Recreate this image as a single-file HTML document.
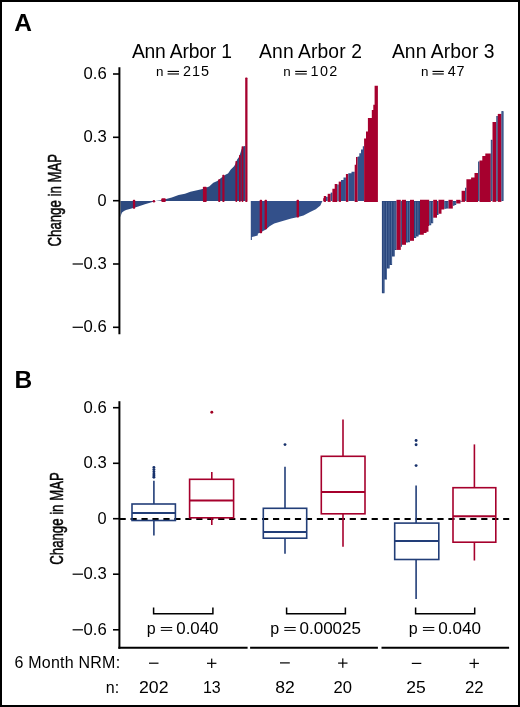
<!DOCTYPE html>
<html><head><meta charset="utf-8"><style>
html,body{margin:0;padding:0;background:#fff;}
svg{display:block;font-family:'Liberation Sans', sans-serif;will-change:transform;}
</style></head><body>
<svg width="520" height="707" viewBox="0 0 520 707">
<rect x="1" y="1" width="518" height="705" fill="#fff" stroke="#000" stroke-width="2"/>
<g id="wf">
<polygon points="120.50,201.00 120.50,217.50 121.20,214.50 122.00,212.40 124.00,211.00 126.00,210.10 131.50,208.40 138.20,206.60 144.90,204.30 151.60,202.30 155.70,201.00" fill="#2d4a80"/>
<polygon points="155.70,201.00 162.40,199.90 171.80,197.60 178.60,194.90 185.00,193.80 190.40,191.80 197.10,190.20 202.50,189.10 209.20,186.40 213.30,182.80 217.30,181.00 221.00,178.00 225.40,174.70 228.00,173.60 230.80,169.60 234.10,166.20 235.40,164.00 237.20,159.50 239.00,157.00 240.70,152.00 241.60,149.00 243.40,146.20 245.40,145.90 245.40,201.00" fill="#2d4a80"/>
<rect x="132.90" y="199.80" width="2.30" height="9.00" rx="0.7" fill="#a6002e"/>
<rect x="202.90" y="186.80" width="3.80" height="15.10" rx="0.7" fill="#a6002e"/>
<rect x="218.20" y="179.20" width="2.10" height="22.70" rx="0.7" fill="#a6002e"/>
<rect x="222.30" y="174.80" width="2.20" height="27.10" rx="0.7" fill="#a6002e"/>
<rect x="235.40" y="161.00" width="1.80" height="40.90" rx="0.7" fill="#a6002e"/>
<rect x="239.00" y="155.00" width="1.70" height="46.90" rx="0.7" fill="#a6002e"/>
<rect x="241.60" y="146.30" width="1.80" height="55.60" rx="0.7" fill="#a6002e"/>
<rect x="245.20" y="77.60" width="2.30" height="124.30" rx="0.7" fill="#a6002e"/>
<circle cx="153.9" cy="201.3" r="1.3" fill="#a6002e"/>
<rect x="161.3" y="198.3" width="4.5" height="3.7" rx="1" fill="#a6002e"/>
<polygon points="250.80,201.00 250.80,240.00 251.90,240.00 251.90,236.90 257.70,235.60 257.90,233.50 259.60,233.00 263.50,230.80 266.00,229.50 269.60,226.20 274.20,223.50 283.50,220.80 291.20,218.50 297.00,217.20 303.50,215.40 309.60,212.30 315.80,209.20 320.40,205.40 321.90,202.00 322.50,201.00" fill="#33508a"/>
<rect x="259.70" y="199.80" width="2.40" height="33.50" rx="0.7" fill="#a6002e"/>
<rect x="264.60" y="199.80" width="2.40" height="29.50" rx="0.7" fill="#a6002e"/>
<rect x="296.60" y="199.80" width="2.40" height="17.60" rx="0.7" fill="#a6002e"/>
<rect x="323.2" y="198.2" width="2" height="3" fill="#a6002e"/>
<polygon points="323.80,201.90 323.80,196.00 326.00,196.00 326.00,201.90" fill="#a6002e"/>
<polygon points="326.00,201.00 326.00,196.80 327.70,196.80 327.70,201.00" fill="#33508a"/>
<polygon points="327.70,201.90 327.70,193.80 330.70,193.80 330.70,201.90" fill="#a6002e"/>
<polygon points="330.70,201.00 330.70,192.60 332.40,192.60 332.40,201.00" fill="#33508a"/>
<polygon points="332.40,201.90 332.40,188.80 334.70,188.80 334.70,184.10 337.30,184.10 337.30,201.90" fill="#a6002e"/>
<polygon points="337.30,201.00 337.30,184.50 338.70,184.50 338.70,201.00" fill="#33508a"/>
<polygon points="338.70,201.90 338.70,181.60 341.00,181.60 341.00,201.90" fill="#a6002e"/>
<polygon points="341.00,201.00 341.00,180.00 343.50,180.00 343.50,177.50 345.90,177.50 345.90,201.00" fill="#33508a"/>
<polygon points="345.90,201.90 345.90,174.00 348.30,174.00 348.30,201.90" fill="#a6002e"/>
<polygon points="348.30,201.00 348.30,173.30 351.50,173.30 351.50,171.80 354.70,171.80 354.70,201.00" fill="#33508a"/>
<polygon points="354.70,201.90 354.70,164.70 356.00,164.70 356.00,157.10 357.70,157.10 357.70,201.90" fill="#a6002e"/>
<polygon points="357.70,201.00 357.70,156.40 359.30,156.40 359.30,153.20 361.00,153.20 361.00,149.40 362.80,149.40 362.80,146.20 364.10,146.20 364.10,201.00" fill="#33508a"/>
<polygon points="364.10,201.90 364.10,138.60 366.00,138.60 366.00,131.60 367.90,131.60 367.90,118.00 371.80,118.00 371.80,109.90 373.30,109.90 373.30,104.80 374.60,104.80 374.60,85.70 377.90,85.70 377.90,201.90" fill="#a6002e"/>
<polygon points="381.90,201.00 381.90,293.20 384.50,293.20 384.50,279.60 387.00,279.60 387.00,268.50 389.60,268.50 389.60,265.00 392.10,265.00 392.10,256.50 394.70,256.50 394.70,249.90 396.50,249.90 396.50,201.00" fill="#29467d"/>
<polygon points="396.50,199.80 396.50,249.90 400.80,249.90 400.80,199.80" fill="#a6002e"/>
<polygon points="400.80,201.00 400.80,246.70 401.90,246.70 401.90,201.00" fill="#29467d"/>
<polygon points="401.90,199.80 401.90,244.80 406.00,244.80 406.00,199.80" fill="#a6002e"/>
<polygon points="406.00,201.00 406.00,242.50 408.00,242.50 408.00,242.30 410.00,242.30 410.00,201.00" fill="#29467d"/>
<polygon points="410.00,199.80 410.00,240.80 414.00,240.80 414.00,199.80" fill="#a6002e"/>
<polygon points="414.00,201.00 414.00,237.90 416.20,237.90 416.20,236.40 418.50,236.40 418.50,234.80 420.00,234.80 420.00,201.00" fill="#29467d"/>
<polygon points="420.00,199.80 420.00,234.80 423.80,234.80 423.80,232.90 426.50,232.90 426.50,231.80 428.50,231.80 428.50,226.00 429.20,226.00 429.20,199.80" fill="#a6002e"/>
<polygon points="429.20,201.00 429.20,225.20 431.20,225.20 431.20,223.30 433.20,223.30 433.20,201.00" fill="#29467d"/>
<polygon points="433.20,199.80 433.20,217.70 437.00,217.70 437.00,199.80" fill="#a6002e"/>
<polygon points="437.00,201.00 437.00,215.00 438.50,215.00 438.50,201.00" fill="#29467d"/>
<polygon points="438.50,199.80 438.50,213.80 441.50,213.80 441.50,209.60 444.30,209.60 444.30,199.80" fill="#a6002e"/>
<polygon points="444.30,201.00 444.30,208.80 446.40,208.80 446.40,208.60 448.50,208.60 448.50,201.00" fill="#29467d"/>
<polygon points="448.50,199.80 448.50,208.60 452.80,208.60 452.80,199.80" fill="#a6002e"/>
<polygon points="452.80,201.00 452.80,205.80 454.50,205.80 454.50,204.90 456.20,204.90 456.20,201.00" fill="#29467d"/>
<polygon points="456.20,199.80 456.20,203.50 460.50,203.50 460.50,199.80" fill="#a6002e"/>
<polygon points="460.50,201.00 460.50,202.00 461.60,202.00 461.60,201.00" fill="#29467d"/>
<polygon points="461.60,201.90 461.60,190.80 465.10,190.80 465.10,201.90" fill="#a6002e"/>
<polygon points="465.10,201.00 465.10,187.70 466.40,187.70 466.40,201.00" fill="#29467d"/>
<polygon points="466.40,201.90 466.40,179.30 471.10,179.30 471.10,177.40 474.50,177.40 474.50,173.10 478.10,173.10 478.10,201.90" fill="#a6002e"/>
<polygon points="478.10,201.00 478.10,161.50 479.50,161.50 479.50,201.00" fill="#29467d"/>
<polygon points="479.50,201.90 479.50,160.60 482.30,160.60 482.30,155.90 485.30,155.90 485.30,153.60 490.80,153.60 490.80,201.90" fill="#a6002e"/>
<polygon points="490.80,201.00 490.80,139.80 492.50,139.80 492.50,201.00" fill="#29467d"/>
<polygon points="492.50,201.90 492.50,122.00 496.30,122.00 496.30,201.90" fill="#a6002e"/>
<polygon points="496.30,201.00 496.30,115.90 497.80,115.90 497.80,201.00" fill="#29467d"/>
<polygon points="497.80,201.90 497.80,113.90 501.40,113.90 501.40,201.90" fill="#a6002e"/>
<polygon points="501.40,201.00 501.40,111.10 503.50,111.10 503.50,201.00" fill="#29467d"/>
<rect x="383.55" y="201.80" width="0.75" height="90.60" fill="#5a74a2"/>
<rect x="386.05" y="201.80" width="0.75" height="77.00" fill="#5a74a2"/>
<rect x="388.65" y="201.80" width="0.75" height="65.90" fill="#5a74a2"/>
<rect x="391.15" y="201.80" width="0.75" height="62.40" fill="#5a74a2"/>
<rect x="393.75" y="201.80" width="0.75" height="53.90" fill="#5a74a2"/>
<rect x="395.55" y="201.80" width="0.75" height="47.30" fill="#5a74a2"/>
<rect x="407.05" y="201.80" width="0.75" height="39.90" fill="#5a74a2"/>
<rect x="409.05" y="201.80" width="0.75" height="39.70" fill="#5a74a2"/>
<rect x="415.25" y="201.80" width="0.75" height="35.30" fill="#5a74a2"/>
<rect x="417.55" y="201.80" width="0.75" height="33.80" fill="#5a74a2"/>
<rect x="430.25" y="201.80" width="0.75" height="22.60" fill="#5a74a2"/>
<rect x="432.25" y="201.80" width="0.75" height="20.70" fill="#5a74a2"/>
<rect x="445.45" y="201.80" width="0.75" height="6.20" fill="#5a74a2"/>
<rect x="447.55" y="201.80" width="0.75" height="6.00" fill="#5a74a2"/>
<rect x="453.55" y="201.80" width="0.75" height="3.20" fill="#5a74a2"/>
<rect x="455.25" y="201.80" width="0.75" height="2.30" fill="#5a74a2"/>
<rect x="491.55" y="140.60" width="0.75" height="59.60" fill="#5a74a2"/>
<rect x="502.55" y="111.90" width="0.75" height="88.30" fill="#5a74a2"/>
</g>
<g id="axes">
<line x1="119.4" y1="67.2" x2="119.4" y2="334.3" stroke="#000" stroke-width="2.0" />
<line x1="113.0" y1="74.0" x2="119.4" y2="74.0" stroke="#000" stroke-width="1.6" />
<line x1="113.0" y1="137.3" x2="119.4" y2="137.3" stroke="#000" stroke-width="1.6" />
<line x1="113.0" y1="200.7" x2="119.4" y2="200.7" stroke="#000" stroke-width="1.6" />
<line x1="113.0" y1="264.0" x2="119.4" y2="264.0" stroke="#000" stroke-width="1.6" />
<line x1="113.0" y1="327.3" x2="119.4" y2="327.3" stroke="#000" stroke-width="1.6" />
<line x1="119.4" y1="401.2" x2="119.4" y2="648.75" stroke="#000" stroke-width="2.0" />
<line x1="113.0" y1="407.7" x2="119.4" y2="407.7" stroke="#000" stroke-width="1.6" />
<line x1="113.0" y1="463.3" x2="119.4" y2="463.3" stroke="#000" stroke-width="1.6" />
<line x1="113.0" y1="518.7" x2="119.4" y2="518.7" stroke="#000" stroke-width="1.6" />
<line x1="113.0" y1="574.2" x2="119.4" y2="574.2" stroke="#000" stroke-width="1.6" />
<line x1="113.0" y1="629.8" x2="119.4" y2="629.8" stroke="#000" stroke-width="1.6" />
<line x1="118.4" y1="647.75" x2="247.6" y2="647.75" stroke="#000" stroke-width="2.0" />
<line x1="250.1" y1="647.75" x2="377.9" y2="647.75" stroke="#000" stroke-width="2.0" />
<line x1="381.5" y1="647.75" x2="509.1" y2="647.75" stroke="#000" stroke-width="2.0" />
<line x1="119.55" y1="519.0" x2="509.2" y2="519.0" stroke="#000" stroke-width="1.9" stroke-dasharray="6.2 4.76"/>
<polyline points="153.6,607.6 153.6,613.7 212.9,613.7 212.9,607.6" fill="none" stroke="#000" stroke-width="1.5"/>
<polyline points="286.6,607.6 286.6,613.7 345.4,613.7 345.4,607.6" fill="none" stroke="#000" stroke-width="1.5"/>
<polyline points="415.6,607.6 415.6,613.7 474.7,613.7 474.7,607.6" fill="none" stroke="#000" stroke-width="1.5"/>
</g>
<g id="boxes">
<g stroke="#223e78" stroke-width="1.6" fill="none">
<rect x="132.0" y="504.0" width="43.400000000000006" height="16.5"/>
<line x1="132.0" y1="512.9" x2="175.4" y2="512.9" stroke-width="2.0"/>
<line x1="153.9" y1="480.8" x2="153.9" y2="504.0"/>
<line x1="153.9" y1="520.5" x2="153.9" y2="535.5"/>
</g>
<circle cx="153.9" cy="467.4" r="1.45" fill="#17316b"/>
<circle cx="153.9" cy="469.6" r="1.45" fill="#17316b"/>
<circle cx="153.9" cy="471.8" r="1.45" fill="#17316b"/>
<circle cx="153.9" cy="473.9" r="1.45" fill="#17316b"/>
<circle cx="153.9" cy="475.8" r="1.45" fill="#17316b"/>
<circle cx="153.9" cy="477.3" r="1.45" fill="#17316b"/>
<g stroke="#a6002c" stroke-width="1.6" fill="none">
<rect x="189.6" y="479.3" width="44.0" height="38.49999999999994"/>
<line x1="189.6" y1="500.5" x2="233.6" y2="500.5" stroke-width="2.0"/>
<line x1="211.8" y1="472.0" x2="211.8" y2="479.3"/>
<line x1="211.8" y1="517.8" x2="211.8" y2="525.0"/>
</g>
<circle cx="211.8" cy="412.2" r="1.45" fill="#a00022"/>
<g stroke="#223e78" stroke-width="1.6" fill="none">
<rect x="263.3" y="508.3" width="43.39999999999998" height="29.900000000000034"/>
<line x1="263.3" y1="532.0" x2="306.7" y2="532.0" stroke-width="2.0"/>
<line x1="285.0" y1="466.8" x2="285.0" y2="508.3"/>
<line x1="285.0" y1="538.2" x2="285.0" y2="553.8"/>
</g>
<circle cx="285.0" cy="444.6" r="1.45" fill="#17316b"/>
<g stroke="#a6002c" stroke-width="1.6" fill="none">
<rect x="321.3" y="456.3" width="43.69999999999999" height="57.49999999999994"/>
<line x1="321.3" y1="492.0" x2="365.0" y2="492.0" stroke-width="2.0"/>
<line x1="343.0" y1="419.5" x2="343.0" y2="456.3"/>
<line x1="343.0" y1="513.8" x2="343.0" y2="546.8"/>
</g>
<g stroke="#223e78" stroke-width="1.6" fill="none">
<rect x="394.7" y="523.1" width="44.10000000000002" height="36.39999999999998"/>
<line x1="394.7" y1="540.9" x2="438.8" y2="540.9" stroke-width="2.0"/>
<line x1="416.1" y1="485.5" x2="416.1" y2="523.1"/>
<line x1="416.1" y1="559.5" x2="416.1" y2="599.0"/>
</g>
<circle cx="416.1" cy="440.5" r="1.45" fill="#17316b"/>
<circle cx="416.1" cy="444.7" r="1.45" fill="#17316b"/>
<circle cx="416.1" cy="465.6" r="1.45" fill="#17316b"/>
<g stroke="#a6002c" stroke-width="1.6" fill="none">
<rect x="453.0" y="487.7" width="42.80000000000001" height="54.50000000000006"/>
<line x1="453.0" y1="516.2" x2="495.8" y2="516.2" stroke-width="2.0"/>
<line x1="474.4" y1="444.4" x2="474.4" y2="487.7"/>
<line x1="474.4" y1="542.2" x2="474.4" y2="560.5"/>
</g>
</g>
<g id="texts" fill="#000">
<text x="14.2" y="31.1" font-size="24.5" font-weight="bold" >A</text>
<text x="14.6" y="388.3" font-size="24.5" font-weight="bold" >B</text>
<text x="131.89" y="57.8" font-size="19.3" textLength="100.0" lengthAdjust="spacing">Ann Arbor 1</text>
<text x="259.12" y="57.8" font-size="19.3" textLength="102.75" lengthAdjust="spacing">Ann Arbor 2</text>
<text x="391.89" y="57.8" font-size="19.3" textLength="102.68" lengthAdjust="spacing">Ann Arbor 3</text>
<text x="155.93" y="76.3" font-size="13.4" >n</text>
<rect x="167.6" y="70.85" width="11.40" height="1.15" fill="#000"/>
<rect x="167.6" y="73.4" width="11.40" height="1.15" fill="#000"/>
<text x="183.03" y="76.3" font-size="14.4" textLength="26.08" lengthAdjust="spacing">215</text>
<text x="283.18" y="76.3" font-size="13.4" >n</text>
<rect x="295.2" y="70.85" width="11.60" height="1.15" fill="#000"/>
<rect x="295.2" y="73.4" width="11.60" height="1.15" fill="#000"/>
<text x="310.6" y="76.3" font-size="14.4" textLength="26.66" lengthAdjust="spacing">102</text>
<text x="420.96" y="76.3" font-size="13.4" >n</text>
<rect x="432.5" y="70.85" width="11.30" height="1.15" fill="#000"/>
<rect x="432.5" y="73.4" width="11.30" height="1.15" fill="#000"/>
<text x="447.69" y="76.3" font-size="14.4" textLength="16.94" lengthAdjust="spacing">47</text>
<text x="83.6" y="79.1" font-size="15.7" textLength="23.2" lengthAdjust="spacingAndGlyphs">0.6</text>
<text x="83.6" y="142.4" font-size="15.7" textLength="23.2" lengthAdjust="spacingAndGlyphs">0.3</text>
<text x="97.5" y="205.79999999999998" font-size="15.7" textLength="9.1" lengthAdjust="spacingAndGlyphs">0</text>
<text x="83.6" y="269.1" font-size="15.7" textLength="23.2" lengthAdjust="spacingAndGlyphs">0.3</text>
<rect x="72.6" y="263.35" width="10.4" height="1.3" fill="#111"/>
<text x="83.6" y="332.40000000000003" font-size="15.7" textLength="23.2" lengthAdjust="spacingAndGlyphs">0.6</text>
<rect x="72.6" y="326.65" width="10.4" height="1.3" fill="#111"/>
<text x="83.6" y="412.8" font-size="15.7" textLength="23.2" lengthAdjust="spacingAndGlyphs">0.6</text>
<text x="83.6" y="468.40000000000003" font-size="15.7" textLength="23.2" lengthAdjust="spacingAndGlyphs">0.3</text>
<text x="97.5" y="523.8000000000001" font-size="15.7" textLength="9.1" lengthAdjust="spacingAndGlyphs">0</text>
<text x="83.6" y="579.3000000000001" font-size="15.7" textLength="23.2" lengthAdjust="spacingAndGlyphs">0.3</text>
<rect x="72.6" y="573.55" width="10.4" height="1.3" fill="#111"/>
<text x="83.6" y="634.9" font-size="15.7" textLength="23.2" lengthAdjust="spacingAndGlyphs">0.6</text>
<rect x="72.6" y="629.15" width="10.4" height="1.3" fill="#111"/>
<text x="0" y="0" font-size="19.2" text-anchor="middle" textLength="92.5" lengthAdjust="spacingAndGlyphs" stroke="#111" stroke-width="0.55" transform="translate(61.3,200.2) rotate(-90)">Change in MAP</text>
<text x="0" y="0" font-size="19.2" text-anchor="middle" textLength="92.5" lengthAdjust="spacingAndGlyphs" stroke="#111" stroke-width="0.55" transform="translate(63.0,518.5) rotate(-90)">Change in MAP</text>
<text x="146.66" y="633.8" font-size="16.0" >p</text>
<rect x="160.8" y="627.03" width="11.40" height="1.0" fill="#000"/>
<rect x="160.8" y="629.88" width="11.40" height="1.0" fill="#000"/>
<text x="176.26" y="633.8" font-size="16.2" textLength="42.26" lengthAdjust="spacingAndGlyphs">0.040</text>
<text x="270.15" y="633.8" font-size="16.0" >p</text>
<rect x="284.3" y="627.03" width="11.40" height="1.0" fill="#000"/>
<rect x="284.3" y="629.88" width="11.40" height="1.0" fill="#000"/>
<text x="299.47" y="633.8" font-size="16.2" textLength="61.57" lengthAdjust="spacingAndGlyphs">0.00025</text>
<text x="408.66" y="633.8" font-size="16.0" >p</text>
<rect x="422.9" y="627.03" width="11.40" height="1.0" fill="#000"/>
<rect x="422.9" y="629.88" width="11.40" height="1.0" fill="#000"/>
<text x="438.33" y="633.8" font-size="16.2" textLength="42.77" lengthAdjust="spacingAndGlyphs">0.040</text>
<text x="14.4" y="668.0" font-size="16.0" textLength="105.68" lengthAdjust="spacing">6 Month NRM:</text>
<text x="105.82" y="692.8" font-size="16.0" >n:</text>
<rect x="149.0" y="662.6" width="9.5" height="1.2" fill="#000"/>
<rect x="280.0" y="662.3" width="9.800000000000011" height="1.2" fill="#000"/>
<rect x="411.8" y="662.8" width="9.5" height="1.2" fill="#000"/>
<rect x="207.0" y="662.6999999999999" width="9.4" height="1.2" fill="#000"/>
<rect x="211.1" y="658.5999999999999" width="1.2" height="9.4" fill="#000"/>
<rect x="338.1" y="662.5" width="9.4" height="1.2" fill="#000"/>
<rect x="342.2" y="658.4" width="1.2" height="9.4" fill="#000"/>
<rect x="469.5" y="662.8" width="9.4" height="1.2" fill="#000"/>
<rect x="473.59999999999997" y="658.6999999999999" width="1.2" height="9.4" fill="#000"/>
<text x="139.0" y="692.9" font-size="16.2" textLength="29.5" lengthAdjust="spacingAndGlyphs">202</text>
<text x="202.97" y="692.9" font-size="16.2" textLength="17.79" lengthAdjust="spacingAndGlyphs">13</text>
<text x="275.36" y="692.9" font-size="16.2" textLength="19.54" lengthAdjust="spacingAndGlyphs">82</text>
<text x="333.61" y="692.9" font-size="16.2" textLength="18.48" lengthAdjust="spacingAndGlyphs">20</text>
<text x="406.35" y="692.9" font-size="16.2" textLength="19.5" lengthAdjust="spacingAndGlyphs">25</text>
<text x="464.94" y="692.9" font-size="16.2" textLength="18.58" lengthAdjust="spacingAndGlyphs">22</text>
</g>
</svg>
</body></html>
